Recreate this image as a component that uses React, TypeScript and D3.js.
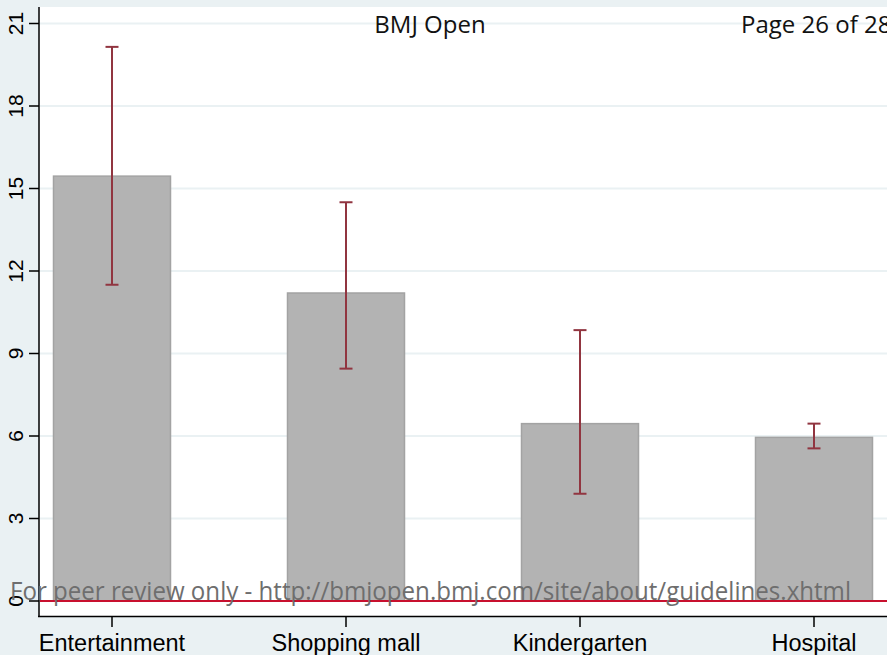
import React from 'react';
import * as d3 from 'd3';

// prevalence by setting, with 95% CI
const categories = ['Entertainment', 'Shopping mall', 'Kindergarten', 'Hospital'];
const means = [15.45, 11.2, 6.45, 5.95];
const lower = [11.5, 8.45, 3.9, 5.55];
const upper = [20.15, 14.5, 9.85, 6.45];
const yTicks = [0, 3, 6, 9, 12, 15, 18, 21];

const W = 887;
const H = 655;
const bg = '#eaf1f3';

const App = () => {
  const y = d3.scaleLinear().domain([0, 21]).range([601, 23.5]);
  const x = d3.scaleBand<string>().domain(categories).range([-5, 931]).paddingInner(0.5).paddingOuter(0.25);
  const bw = x.bandwidth();
  const cx = (c: string) => (x(c) as number) + bw / 2;

  return (
    <svg width={W} height={H} style={{ display: 'block', position: 'absolute', left: 0, top: 0 }}>
      <rect x={0} y={0} width={W} height={H} fill={bg} />
      <rect x={39} y={7} width={W - 39} height={609} fill="#ffffff" />
      {yTicks.map(t => (
        <line key={'g' + t} x1={40} x2={W} y1={y(t)} y2={y(t)} stroke={bg} strokeWidth={2} />
      ))}
      {categories.map((c, i) => (
        <rect key={'b' + c} x={x(c)} y={y(means[i])} width={bw} height={y(0) - y(means[i])}
          fill="#b3b3b3" stroke="#a3a3a3" strokeWidth={1.5} />
      ))}
      {categories.map((c, i) => (
        <g key={'e' + c} stroke="#913540" strokeWidth={2}>
          <line x1={cx(c)} x2={cx(c)} y1={y(upper[i])} y2={y(lower[i])} />
          <line x1={cx(c) - 6.5} x2={cx(c) + 6.5} y1={y(upper[i])} y2={y(upper[i])} />
          <line x1={cx(c) - 6.5} x2={cx(c) + 6.5} y1={y(lower[i])} y2={y(lower[i])} />
        </g>
      ))}
      <line x1={40} x2={W} y1={y(0)} y2={y(0)} stroke="#c8102e" strokeWidth={2} />
      {/* axes */}
      <line x1={39} x2={39} y1={7} y2={617} stroke="#000" strokeWidth={1.5} />
      <line x1={38} x2={W} y1={616.5} y2={616.5} stroke="#000" strokeWidth={1.5} />
      {yTicks.map(t => (
        <g key={'t' + t}>
          <line x1={29} x2={39} y1={y(t)} y2={y(t)} stroke="#000" strokeWidth={1.5} />
          <text transform={`translate(22.5,${y(t)}) rotate(-90)`} textAnchor="middle"
            fontFamily="Liberation Sans, Arial, sans-serif" fontSize={21} fill="#000">{t}</text>
        </g>
      ))}
      {categories.map(c => (
        <g key={'x' + c}>
          <line x1={cx(c)} x2={cx(c)} y1={617} y2={627} stroke="#000" strokeWidth={1.5} />
          <text x={cx(c)} y={651} textAnchor="middle"
            fontFamily="Liberation Sans, Arial, sans-serif" fontSize={23.5} fill="#000">{c}</text>
        </g>
      ))}
      {/* page overlay */}
      <text x={430} y={33} textAnchor="middle" fontFamily="Open Sans, sans-serif" fontSize={24} fill="#111">BMJ Open</text>
      <text x={741} y={33} fontFamily="Open Sans, sans-serif" fontSize={24} fill="#111">Page 26 of 28</text>
      <text x={10} y={600} textLength={841} lengthAdjust="spacingAndGlyphs"
        fontFamily="Open Sans, sans-serif" fontSize={25} fill="#6e6e6e">
        For peer review only - http://bmjopen.bmj.com/site/about/guidelines.xhtml
      </text>
    </svg>
  );
};

export default App;
